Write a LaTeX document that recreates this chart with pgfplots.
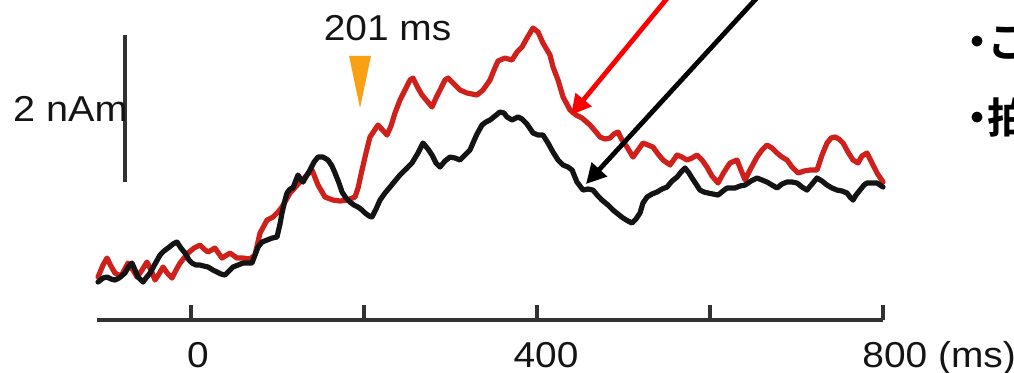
\documentclass[border=0pt]{standalone}
\usepackage{pgfplots}
\pgfplotsset{compat=1.18}
\usepackage{fontspec}
\setmainfont{Liberation Sans}
\newfontfamily\cjk{Noto Sans CJK JP}[BoldFont={* Bold}]
\usetikzlibrary{arrows.meta}
\definecolor{axgray}{RGB}{50,50,50}
\definecolor{tracered}{RGB}{208,32,28}
\definecolor{traceblack}{RGB}{20,20,20}
\definecolor{triorange}{RGB}{250,160,20}
\definecolor{arrowred}{RGB}{255,0,0}
\newcommand{\lbl}{\fontsize{18pt}{20pt}\selectfont}
\begin{document}
\begin{tikzpicture}
\begin{axis}[
  scale only axis, width=393pt, height=160pt,
  xmin=-108.7, xmax=800, ymin=-0.544, ymax=3.8095,
  axis x line=bottom, axis y line=none,
  x axis line style={-, line width=1.8pt, color=axgray},
  xtick={0,200,400,600,800}, xticklabels={},
  xtick align=inside, major tick length=7.5pt,
  every tick/.style={line width=1.8pt, color=axgray},
  clip=false,
]
\coordinate (BL) at (axis cs:-220.81,-1.2517);
\coordinate (TR) at (axis cs:951.45,3.8095);

% red trace
\addplot[color=tracered, line width=2.6pt, line join=round, line cap=round] coordinates {
(-107.5,0.041)(-101.7,0.204)(-97.1,0.299)(-92.5,0.190)(-87.9,0.095)(-80.9,0.054)
(-72.8,0.231)(-67.1,0.136)(-62.4,0.041)(-56.6,0.136)(-50.9,0.245)(-46.2,0.136)
(-41.6,0.000)(-37.0,0.082)(-32.4,0.177)(-26.6,0.082)(-22.0,0.027)(-17.3,0.136)
(-12.7,0.231)(-3.5,0.367)(3.5,0.435)(10.4,0.476)(15.0,0.422)(19.7,0.381)
(27.7,0.435)(35.8,0.299)(45.1,0.367)(53.2,0.299)(60.1,0.299)(68.2,0.286)
(74.0,0.340)(79.8,0.639)(87.9,0.816)(94.8,0.857)(100.6,0.925)(105.2,0.993)
(114.5,1.184)(126.0,1.333)(132.9,1.415)(139.9,1.497)(146.8,1.293)(154.9,1.129)
(164.2,1.088)(172.3,1.075)(180.3,1.088)(189.6,1.129)(193.1,1.252)(197.7,1.497)
(202.3,1.728)(206.9,1.946)(216.2,2.109)(226.6,1.973)(231.2,2.095)(235.8,2.272)
(241.6,2.449)(247.4,2.585)(253.2,2.721)(256.6,2.748)(262.4,2.612)(267.1,2.517)
(278.6,2.354)(283.2,2.476)(287.9,2.585)(293.6,2.721)(297.1,2.748)(302.9,2.680)
(311.0,2.585)(319.1,2.544)(330.6,2.517)(337.6,2.585)(345.7,2.721)(350.3,2.857)
(354.9,2.980)(363.0,3.020)(371.1,2.993)(376.9,3.102)(382.7,3.170)(388.4,3.292)
(395.4,3.428)(401.2,3.374)(406.9,3.224)(415.0,3.061)(418.5,2.898)(424.3,2.721)
(430.1,2.490)(438.2,2.313)(445.1,2.245)(452.0,2.204)(461.3,2.109)(468.2,2.014)
(472.8,1.946)(478.6,1.918)(484.4,1.932)(489.0,1.986)(493.6,2.014)(498.3,1.905)
(504.0,1.809)(511.0,1.673)(516.8,1.769)(522.5,1.864)(528.3,1.837)(534.1,1.809)
(539.9,1.714)(545.7,1.633)(553.8,1.565)(561.9,1.701)(567.6,1.673)(573.4,1.633)
(579.2,1.660)(585.0,1.701)(590.8,1.633)(596.5,1.537)(602.3,1.415)(609.3,1.320)
(616.2,1.469)(623.1,1.592)(631.2,1.633)(635.8,1.497)(640.5,1.361)(647.4,1.524)
(654.3,1.673)(660.1,1.769)(665.9,1.837)(671.7,1.796)(677.5,1.728)(683.2,1.673)
(689.0,1.633)(694.8,1.537)(701.7,1.456)(708.7,1.483)(715.6,1.497)(723.7,1.497)
(729.5,1.701)(735.3,1.864)(739.9,1.932)(744.5,1.946)(749.1,1.918)(753.8,1.864)
(759.5,1.741)(765.3,1.633)(771.1,1.592)(775.7,1.687)(781.5,1.728)(787.3,1.592)
(793.1,1.456)(800.0,1.333)
};

% black trace
\addplot[color=traceblack, line width=2.6pt, line join=round, line cap=round] coordinates {
(-107.5,-0.027)(-101.7,0.027)(-97.1,0.041)(-92.5,0.014)(-87.9,0.000)(-83.2,0.027)
(-76.3,0.095)(-71.7,0.190)(-68.2,0.231)(-64.7,0.136)(-61.3,0.041)(-55.5,-0.027)
(-52.0,0.027)(-47.4,0.095)(-41.6,0.218)(-35.8,0.340)(-31.2,0.395)(-26.6,0.435)
(-20.8,0.490)(-16.2,0.517)(-11.6,0.435)(-6.9,0.367)(-2.3,0.272)(1.2,0.231)
(5.8,0.204)(10.4,0.204)(15.0,0.190)(19.7,0.177)(25.4,0.136)(30.1,0.109)
(34.7,0.082)(39.3,0.068)(43.9,0.122)(48.6,0.177)(54.3,0.204)(60.1,0.231)
(65.9,0.231)(70.5,0.231)(74.0,0.340)(77.5,0.449)(82.1,0.517)(87.9,0.544)
(93.6,0.571)(99.4,0.585)(102.9,0.762)(105.2,0.912)(108.7,1.088)(111.0,1.184)
(114.5,1.238)(117.9,1.252)(121.4,1.361)(123.7,1.429)(127.2,1.361)(129.5,1.333)
(134.1,1.429)(137.6,1.497)(142.2,1.605)(146.8,1.673)(152.6,1.673)(158.4,1.633)
(163.0,1.551)(166.5,1.456)(171.1,1.320)(174.6,1.197)(179.2,1.116)(183.8,1.061)
(188.4,1.020)(193.1,0.993)(197.7,0.952)(201.2,0.912)(205.8,0.871)(209.2,0.857)
(213.9,0.966)(218.5,1.088)(224.3,1.184)(230.1,1.265)(235.8,1.347)(241.6,1.429)
(248.6,1.510)(255.5,1.592)(262.4,1.728)(268.2,1.864)(274.0,1.782)(278.6,1.701)
(283.2,1.592)(287.9,1.537)(293.6,1.619)(299.4,1.673)(305.2,1.660)(311.0,1.633)
(316.8,1.701)(322.5,1.769)(326.0,1.864)(330.6,1.986)(336.4,2.109)(341.0,2.150)
(345.7,2.177)(351.4,2.231)(357.2,2.286)(361.8,2.272)(365.3,2.218)(371.1,2.177)
(378.0,2.218)(382.7,2.190)(388.4,2.122)(395.4,2.000)(401.2,1.973)(406.9,1.973)
(412.7,1.864)(418.5,1.741)(424.3,1.633)(430.1,1.565)(435.8,1.537)(440.5,1.497)
(446.2,1.333)(453.2,1.224)(459.0,1.238)(464.7,1.224)(470.5,1.143)(475.1,1.088)
(482.1,1.020)(487.9,0.952)(493.6,0.898)(499.4,0.844)(505.2,0.803)(509.8,0.776)
(514.4,0.830)(519.1,0.912)(522.5,1.048)(527.2,1.129)(532.9,1.170)(538.7,1.197)
(544.5,1.238)(550.3,1.265)(556.1,1.347)(561.9,1.401)(566.5,1.469)(571.1,1.524)
(575.7,1.456)(579.2,1.388)(583.8,1.306)(588.4,1.224)(593.1,1.197)(597.7,1.184)
(603.5,1.170)(609.3,1.156)(615.0,1.211)(619.7,1.252)(624.3,1.252)(628.9,1.252)
(634.7,1.279)(640.5,1.292)(647.4,1.347)(654.3,1.388)(660.1,1.361)(665.9,1.333)
(671.7,1.292)(677.5,1.252)(683.2,1.306)(689.0,1.333)(694.8,1.333)(700.6,1.320)
(706.4,1.265)(712.1,1.224)(717.9,1.306)(723.7,1.388)(729.5,1.347)(735.3,1.292)
(741.0,1.252)(746.8,1.224)(752.6,1.211)(758.4,1.184)(761.8,1.129)(765.3,1.088)
(768.8,1.156)(773.4,1.224)(778.0,1.292)(781.5,1.320)(787.3,1.320)(793.1,1.320)
(800.0,1.265)
};

% tick labels
\node[anchor=base, inner sep=0, xscale=1.08, text=traceblack] at (axis cs:8.1,-1.184) {\lbl 0};
\node[anchor=base, inner sep=0, xscale=1.08, text=traceblack] at (axis cs:410.4,-1.184) {\lbl 400};
\node[anchor=base west, inner sep=0, xscale=1.08, text=traceblack] at (axis cs:775.7,-1.184) {\lbl 800 (ms)};

% scale bar
\draw[axgray, line width=1.8pt] (axis cs:-76.3,1.333) -- (axis cs:-76.3,3.333);
\node[anchor=base east, inner sep=0, xscale=1.1, text=traceblack] at (axis cs:-72.8,2.150) {\lbl 2 nAm};

% 201 ms marker
\fill[triorange] (axis cs:182.7,3.048) -- (axis cs:208.1,3.048) -- (axis cs:195.4,2.340) -- cycle;
\node[anchor=base, inner sep=0, xscale=1.08, text=traceblack] at (axis cs:227.2,3.252) {\lbl 201 ms};

% arrows
\draw[arrowred, line width=2.4pt, -{Triangle[length=10pt,width=10pt]}] (axis cs:558.4,3.946) -- (axis cs:439.3,2.245);
\draw[black, line width=2.4pt, -{Triangle[length=10pt,width=10pt]}] (axis cs:662.6,3.946) -- (axis cs:456.6,1.306);

% slide text (cut off at right edge, as in the reference)
\node[anchor=base, inner sep=0] at (axis cs:908.7,3.034) {\cjk\bfseries\fontsize{21pt}{24pt}\selectfont ・};
\node[anchor=base west, inner sep=0] at (axis cs:920.2,3.034) {\cjk\bfseries\fontsize{21pt}{24pt}\selectfont こ};
\node[anchor=base, inner sep=0] at (axis cs:908.7,2.000) {\cjk\bfseries\fontsize{21pt}{24pt}\selectfont ・};
\node[anchor=base west, inner sep=0] at (axis cs:920.2,2.000) {\cjk\bfseries\fontsize{21pt}{24pt}\selectfont 拍};
\end{axis}
\pgfresetboundingbox
\path[use as bounding box] (BL) rectangle (TR);
\end{tikzpicture}
\end{document}
